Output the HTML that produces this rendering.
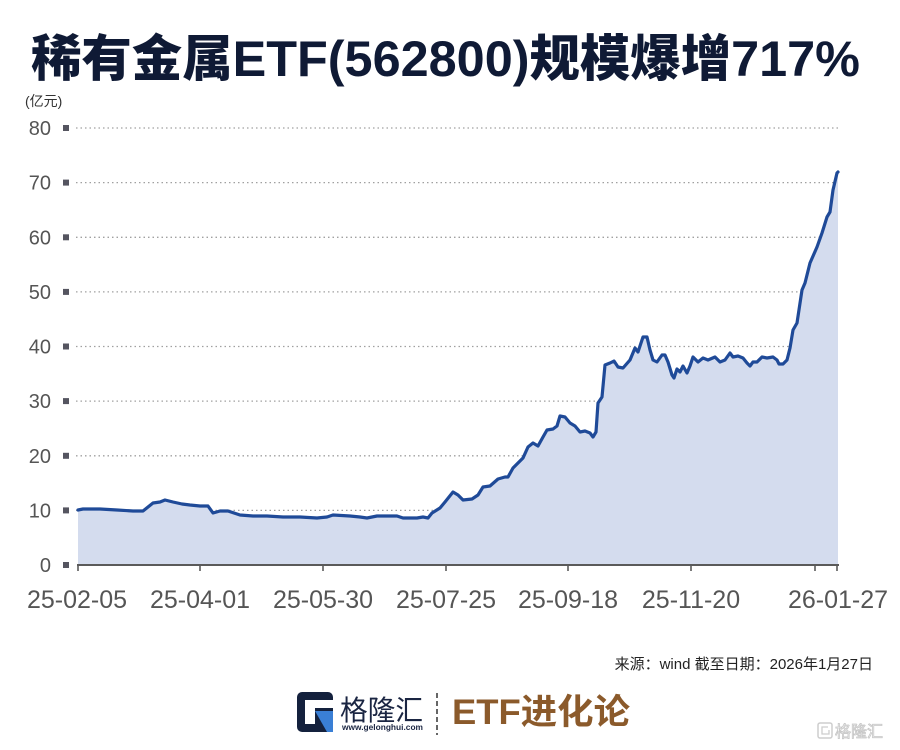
<!DOCTYPE html>
<html>
<head>
<meta charset="utf-8">
<style>
  html,body{margin:0;padding:0;background:#fff;}
  body{width:900px;height:750px;overflow:hidden;}
  svg{display:block;}
  .t{font-family:"Liberation Sans","Noto Sans CJK SC",sans-serif;}
</style>
</head>
<body>
<svg width="900" height="750" viewBox="0 0 900 750" xmlns="http://www.w3.org/2000/svg">
  <rect width="900" height="750" fill="#fff"/>
  <!-- Title -->
  <text class="t" x="31" y="76" font-size="50" font-weight="900" fill="#0f1a35" textLength="829" lengthAdjust="spacingAndGlyphs">稀有金属ETF(562800)规模爆增717%</text>

  <!-- unit -->
  <text class="t" x="25" y="106" font-size="14" fill="#333">(亿元)</text>

  <!-- grid lines -->
  <g stroke="#a0a0a0" stroke-width="1.3" stroke-dasharray="1.5 3">
    <line x1="76" y1="128" x2="838" y2="128"/>
    <line x1="76" y1="182.6" x2="838" y2="182.6"/>
    <line x1="76" y1="237.3" x2="838" y2="237.3"/>
    <line x1="76" y1="291.9" x2="838" y2="291.9"/>
    <line x1="76" y1="346.5" x2="838" y2="346.5"/>
    <line x1="76" y1="401.1" x2="838" y2="401.1"/>
    <line x1="76" y1="455.8" x2="838" y2="455.8"/>
    <line x1="76" y1="510.4" x2="838" y2="510.4"/>
  </g>

  <!-- y markers -->
  <g fill="#555560">
    <rect x="63" y="125" width="6" height="6"/>
    <rect x="63" y="179.6" width="6" height="6"/>
    <rect x="63" y="234.3" width="6" height="6"/>
    <rect x="63" y="288.9" width="6" height="6"/>
    <rect x="63" y="343.5" width="6" height="6"/>
    <rect x="63" y="398.1" width="6" height="6"/>
    <rect x="63" y="452.8" width="6" height="6"/>
    <rect x="63" y="507.4" width="6" height="6"/>
    <rect x="63" y="562" width="6" height="6"/>
  </g>

  <!-- y labels -->
  <g class="t" font-size="20" fill="#555" text-anchor="end">
    <text x="51" y="135">80</text>
    <text x="51" y="189.6">70</text>
    <text x="51" y="244.3">60</text>
    <text x="51" y="298.9">50</text>
    <text x="51" y="353.5">40</text>
    <text x="51" y="408.1">30</text>
    <text x="51" y="462.8">20</text>
    <text x="51" y="517.4">10</text>
    <text x="51" y="572">0</text>
  </g>

  <!-- area -->
  <path fill="#d4dcee" d="M78,565 L78,510 L83,509 L100,509 L117,510 L133,511 L143,511 L148,507 L153,503 L160,502 L165,500 L173,502 L182,504 L190,505 L200,506 L208,506 L213,513 L220,511 L228,511 L240,515 L253,516 L267,516 L283,517 L300,517 L317,518 L327,517 L333,515 L350,516 L360,517 L367,518 L377,516 L397,516 L403,518 L417,518 L423,517 L428,518 L432,513 L440,508 L445,502 L453,492 L458,495 L463,500 L472,499 L478,495 L483,487 L490,486 L498,479 L505,477 L508,477 L513,468 L518,463 L523,458 L528,447 L533,443 L538,446 L543,437 L547,430 L553,429 L557,426 L560,416 L565,417 L570,423 L575,426 L580,432 L585,431 L590,433 L593,437 L596,432 L598,403 L602,397 L605,365 L610,363 L614,361 L618,367 L623,368 L630,360 L635,348 L638,352 L643,337 L647,337 L650,350 L653,360 L657,362 L662,355 L665,355 L668,362 L672,375 L674,378 L677,369 L680,372 L683,366 L687,373 L690,366 L693,357 L698,362 L703,358 L708,360 L715,357 L720,362 L725,360 L730,353 L733,357 L738,356 L743,358 L747,363 L750,366 L753,362 L757,362 L762,357 L767,358 L773,357 L777,360 L779,364 L783,364 L787,360 L790,348 L793,330 L797,323 L802,290 L805,283 L810,263 L817,247 L822,233 L827,217 L830,212 L833,190 L837,173 L838,172 L838,565 Z"/>

  <!-- line -->
  <path fill="none" stroke="#1f4a98" stroke-width="3.2" stroke-linejoin="round" stroke-linecap="round" d="M78,510 L83,509 L100,509 L117,510 L133,511 L143,511 L148,507 L153,503 L160,502 L165,500 L173,502 L182,504 L190,505 L200,506 L208,506 L213,513 L220,511 L228,511 L240,515 L253,516 L267,516 L283,517 L300,517 L317,518 L327,517 L333,515 L350,516 L360,517 L367,518 L377,516 L397,516 L403,518 L417,518 L423,517 L428,518 L432,513 L440,508 L445,502 L453,492 L458,495 L463,500 L472,499 L478,495 L483,487 L490,486 L498,479 L505,477 L508,477 L513,468 L518,463 L523,458 L528,447 L533,443 L538,446 L543,437 L547,430 L553,429 L557,426 L560,416 L565,417 L570,423 L575,426 L580,432 L585,431 L590,433 L593,437 L596,432 L598,403 L602,397 L605,365 L610,363 L614,361 L618,367 L623,368 L630,360 L635,348 L638,352 L643,337 L647,337 L650,350 L653,360 L657,362 L662,355 L665,355 L668,362 L672,375 L674,378 L677,369 L680,372 L683,366 L687,373 L690,366 L693,357 L698,362 L703,358 L708,360 L715,357 L720,362 L725,360 L730,353 L733,357 L738,356 L743,358 L747,363 L750,366 L753,362 L757,362 L762,357 L767,358 L773,357 L777,360 L779,364 L783,364 L787,360 L790,348 L793,330 L797,323 L802,290 L805,283 L810,263 L817,247 L822,233 L827,217 L830,212 L833,190 L837,173 L838,172"/>

  <!-- x axis -->
  <line x1="77" y1="565" x2="839" y2="565" stroke="#5a5a5a" stroke-width="2"/>
  <g stroke="#5a5a5a" stroke-width="1.6">
    <line x1="78" y1="565" x2="78" y2="571"/>
    <line x1="200" y1="565" x2="200" y2="571"/>
    <line x1="323" y1="565" x2="323" y2="571"/>
    <line x1="446" y1="565" x2="446" y2="571"/>
    <line x1="568" y1="565" x2="568" y2="571"/>
    <line x1="691" y1="565" x2="691" y2="571"/>
    <line x1="815" y1="565" x2="815" y2="571"/>
    <line x1="837" y1="565" x2="837" y2="571"/>
  </g>

  <!-- x labels -->
  <g class="t" font-size="25" fill="#555" text-anchor="middle">
    <text x="77" y="608">25-02-05</text>
    <text x="200" y="608">25-04-01</text>
    <text x="323" y="608">25-05-30</text>
    <text x="446" y="608">25-07-25</text>
    <text x="568" y="608">25-09-18</text>
    <text x="691" y="608">25-11-20</text>
    <text x="838" y="608">26-01-27</text>
  </g>

  <!-- source -->
  <text class="t" x="873" y="669" font-size="15" fill="#222" text-anchor="end">来源：wind 截至日期：2026年1月27日</text>

  <!-- logo icon -->
  <g>
    <rect x="297" y="692" width="36" height="40" rx="5" fill="#14213d"/>
    <rect x="305" y="700" width="28" height="8" fill="#fff"/>
    <rect x="305" y="708" width="10" height="16" fill="#fff"/>
    <polygon points="315,711 333,711 333,732 327,732" fill="#3a7fd5"/>
  </g>
  <text class="t" x="340" y="720" font-size="28" fill="#1a2542" textLength="83" lengthAdjust="spacingAndGlyphs">格隆汇</text>
  <text class="t" x="342" y="730" font-size="8.5" font-weight="bold" fill="#1a2542" textLength="81" lengthAdjust="spacingAndGlyphs">www.gelonghui.com</text>
  <line x1="437" y1="693" x2="437" y2="735" stroke="#333" stroke-width="1.5" stroke-dasharray="5 3"/>
  <text class="t" x="452" y="724" font-size="35" font-weight="bold" fill="#8b5a2b" textLength="178" lengthAdjust="spacingAndGlyphs">ETF进化论</text>

  <!-- watermark -->
  <g opacity="0.9">
    <rect x="818" y="723" width="14" height="15" rx="2" fill="none" stroke="#c8c8c8" stroke-width="1.5"/>
    <path d="M828,727 L822,727 L822,734 L829,734 L829,730" fill="none" stroke="#c8c8c8" stroke-width="1.3"/>
    <text class="t" x="835" y="737" font-size="16" fill="#fff" stroke="#c0c0c0" stroke-width="0.8">格隆汇</text>
  </g>
</svg>
</body>
</html>
